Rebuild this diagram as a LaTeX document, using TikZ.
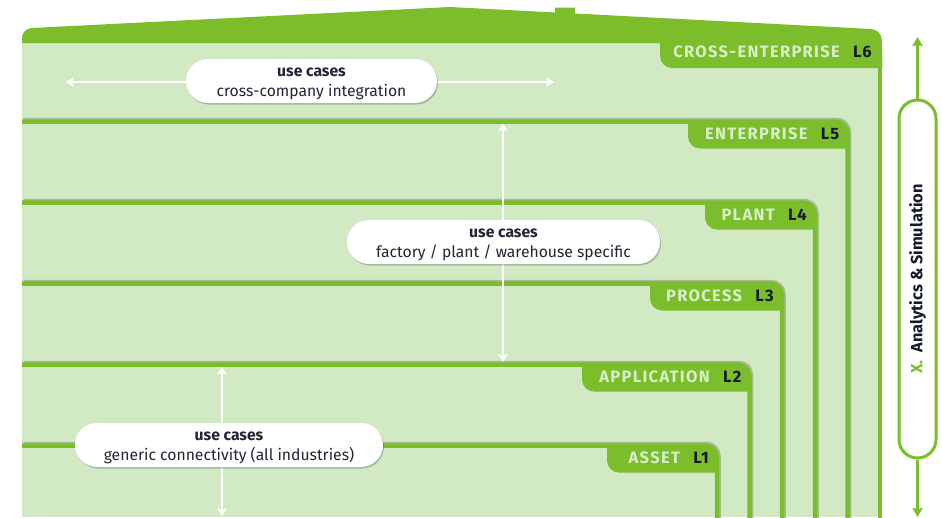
\documentclass[tikz,border=0pt]{standalone}
\usepackage{fontspec}
\setmainfont{Fira Sans}
\newfontfamily\tabfont[LetterSpace=8]{Fira Sans}
\usetikzlibrary{arrows.meta,shadows}
\definecolor{dg}{HTML}{7BBD2B}
\definecolor{lg}{HTML}{D1EAC4}
\definecolor{tabtxt}{HTML}{D8EEC9}
\definecolor{navy}{HTML}{141A2B}
\definecolor{txt}{HTML}{222633}
\definecolor{shd}{HTML}{8A9A80}
\tikzset{
  tabname/.style={inner sep=0pt, text=tabtxt, font=\tabfont\fontsize{16.5}{19}\selectfont\bfseries},
  tabnum/.style={inner sep=0pt, text=navy, font=\tabfont\fontsize{16.5}{19}\selectfont\bfseries},
  pill/.style={fill=white, rounded corners=22pt, minimum height=44pt, inner sep=0pt, align=center,
    text=txt, font=\fontsize{15.7}{19.5}\selectfont,
    drop shadow={shadow xshift=1pt, shadow yshift=-1.5pt, opacity=0.35, fill=black!70}},
  wa/.style={draw=white, line width=2pt, {Stealth[length=8pt,width=10pt,inset=2pt]}-{Stealth[length=8pt,width=10pt,inset=2pt]}},
  ga/.style={draw=dg, line width=2.5pt, -{Stealth[length=9pt,width=10pt,inset=1pt]}},
  border/.style={draw=dg, line width=4.5pt},
  bshadow/.style={draw=shd, line width=4.5pt, opacity=0.6},
}
\newcommand\mklevel[5]{%
  \draw[bshadow] (23.5,{-#1+1.5}) -- ({#2-12+1.5},{-#1+1.5}) arc(90:0:12) -- ({#2+1.5},-530);
  \fill[dg] (#3,-#1) -- ({#2-12},-#1) arc(90:0:12) -- (#2,{-#1-27}) -- ({#3+12},{-#1-27}) arc(270:180:12) -- cycle;
  \draw[border] (22,-#1) -- ({#2-12},-#1) arc(90:0:12) -- (#2,-530);
  \node[tabnum, anchor=base east] (L#5) at ({#2-8},{-#1-17.5}) {L#5};
  \node[tabname, anchor=base east] (N#5) at ([xshift=-13pt]L#5.base west) {#4};
}
\newcommand\topstrut{\rule{0pt}{14pt}}
\begin{document}
\begin{tikzpicture}[x=1pt,y=1pt]
\useasboundingbox (0,0) rectangle (942,-517);
\clip (0,0) rectangle (942,-517);
% background
\fill[lg] (22,-40) rectangle (880,-517);
% roof / L6
\fill[dg] (22,-43) -- (22,-38) arc(180:92.9:10) -- (450,-7) -- (555,-12.5) -- (555,-7.5) -- (575,-7.5) -- (575,-13.5)
  -- (871.1,-29) arc(87:0:11.4) -- (882.5,-68) -- (672,-68) arc(270:180:12) -- (660,-43) -- cycle;
\draw[border] (880,-50) -- (880,-530);
\node[tabnum, anchor=base east] (L6) at (872,-57.5) {L6};
\node[tabname, anchor=base east] (N6) at ([xshift=-13pt]L6.base west) {CROSS-ENTERPRISE};
% levels
\mklevel{121.5}{847.5}{688}{ENTERPRISE}{5}
\mklevel{202.5}{815}{705}{PLANT}{4}
\mklevel{283.5}{782}{650}{PROCESS}{3}
\mklevel{364.5}{749.5}{582}{APPLICATION}{2}
\mklevel{445.5}{717}{607}{ASSET}{1}
% use case arrows
\coordinate (a1l) at (66,-82);
\coordinate (a1r) at (554,-82);
\coordinate (a2t) at (503,-123.5);
\coordinate (a2b) at (503,-362);
\coordinate (a3t) at (222,-367);
\coordinate (a3b) at (222,-516);
\draw[wa] (a1l) -- (a1r);
\draw[wa] (a2t) -- (a2b);
\draw[wa] (a3t) -- (a3b);
% use case pills
\node[pill, minimum width=251pt] (u1) at (311.5,-81) {\topstrut\textbf{use cases}\\cross-company integration};
\node[pill, minimum width=313pt] (u2) at (503.5,-242) {\topstrut\textbf{use cases}\\factory / plant / warehouse specific};
\node[pill, minimum width=308pt] (u3) at (229,-445) {\topstrut\textbf{use cases}\\generic connectivity (all industries)};
% right side
\coordinate (xt) at (917.5,-37);
\coordinate (xb) at (917.5,-517);
\node[draw=dg, line width=3pt, fill=white, rotate=90, minimum width=358pt, minimum height=37pt,
  rounded corners=18.5pt, inner sep=0pt, font=\fontsize{16.3}{19}\selectfont\bfseries, text=navy] (xa) at (917.5,-279)
  {\textcolor{dg}{X.}\enspace Analytics \& Simulation\hspace{8pt}};
\draw[ga] (xa.east) -- (xt);
\draw[ga] (xa.west) -- (xb);
\end{tikzpicture}
\end{document}
